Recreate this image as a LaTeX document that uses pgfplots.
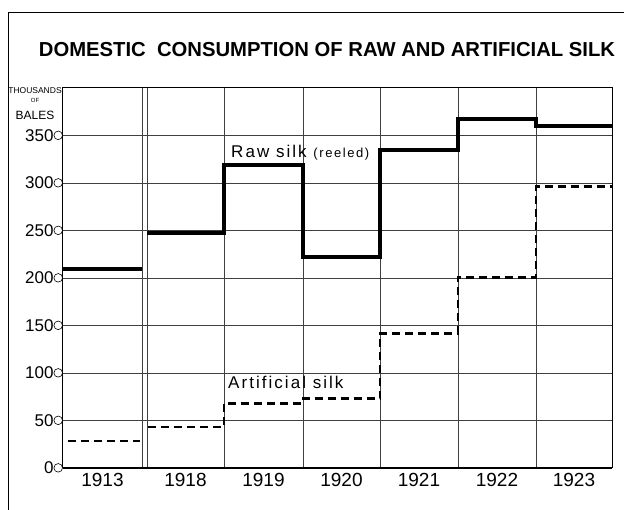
\documentclass[border=0pt]{standalone}
\usepackage{pgfplots}
\pgfplotsset{compat=1.18}
\usepackage{fontspec}
\setmainfont{Liberation Sans}
\newfontfamily\wide[LetterSpace=12]{Liberation Sans}

\begin{document}
\begin{tikzpicture}[x=1pt,y=1pt]
\useasboundingbox (-63,-42) rectangle (561,468);
% outer frame
\draw[line width=0.8pt] (-55,-42) -- (-55,456) -- (561,456);
\node[font=\bfseries] at (264,418) {\resizebox{576pt}{!}{DOMESTIC\ \ CONSUMPTION OF RAW AND ARTIFICIAL SILK}};
\node[font=\fontsize{8.5}{8.5}\selectfont, inner sep=0pt] at (-28,377) {THOUSANDS};
\node[font=\fontsize{6}{6}\selectfont, inner sep=0pt] at (-28,368) {OF};
\node[font=\fontsize{12}{12}\selectfont, inner sep=0pt] at (-28,353) {BALES};
\begin{axis}[
  at={(0,0)}, anchor=south west,
  width=549pt, height=380pt, scale only axis,
  xmin=0, xmax=549, ymin=0, ymax=400,
  axis line style={line width=1pt},
  ytick={0,50,...,350},
  ymajorgrids,
  grid style={line width=0.5pt, black!75},
  xtick={39.5,122.5,200.5,278.5,356,434,511},
  xticklabels={1913,1918,1919,1920,1921,1922,1923},
  extra x ticks={79,84,161,240,317,395,473},
  extra x tick labels={},
  extra x tick style={grid=major},
  major tick length=0pt,
  /pgf/number format/assume math mode=true,
  yticklabel style={font=\fontsize{17}{17}\selectfont, inner sep=0pt},
  xticklabel style={font=\fontsize{19}{19}\selectfont, yshift=-2pt},
  yticklabel={\pgfmathprintnumber{\tick}\tikz[baseline=-6pt]\draw[line width=0.6pt] (0,0) circle (4.3pt);},
  clip=false,
]
% raw silk
\addplot[line width=4pt, line cap=butt] coordinates {(0,209) (79,209)};
\addplot[const plot, line width=4pt, line join=miter, line cap=butt]
  coordinates {(84,247) (161,319) (240,222) (317,335) (395,367) (473,360) (549,360)};
% artificial silk
\addplot[line width=2.6pt, dash pattern=on 8pt off 5pt] coordinates {(5,28.5) (77,28.5)};
\addplot[const plot, line width=2.6pt, dash pattern=on 8pt off 5pt, line join=miter]
  coordinates {(85,43) (161,68) (240,73) (317,141.5) (395,200.5) (473,296) (549,296)};
\draw[line width=1.6pt] (axis cs:0,0) -- (axis cs:549,0);
\node[anchor=west, inner sep=0pt] at (axis cs:168,332)
  {\wide\fontsize{17}{17}\selectfont Raw silk \fontsize{13}{13}\selectfont(reeled)};
\node[anchor=west, inner sep=0pt, font=\wide\fontsize{17}{17}\selectfont] at (axis cs:165,90) {Artificial silk};
\end{axis}
\end{tikzpicture}
\end{document}
